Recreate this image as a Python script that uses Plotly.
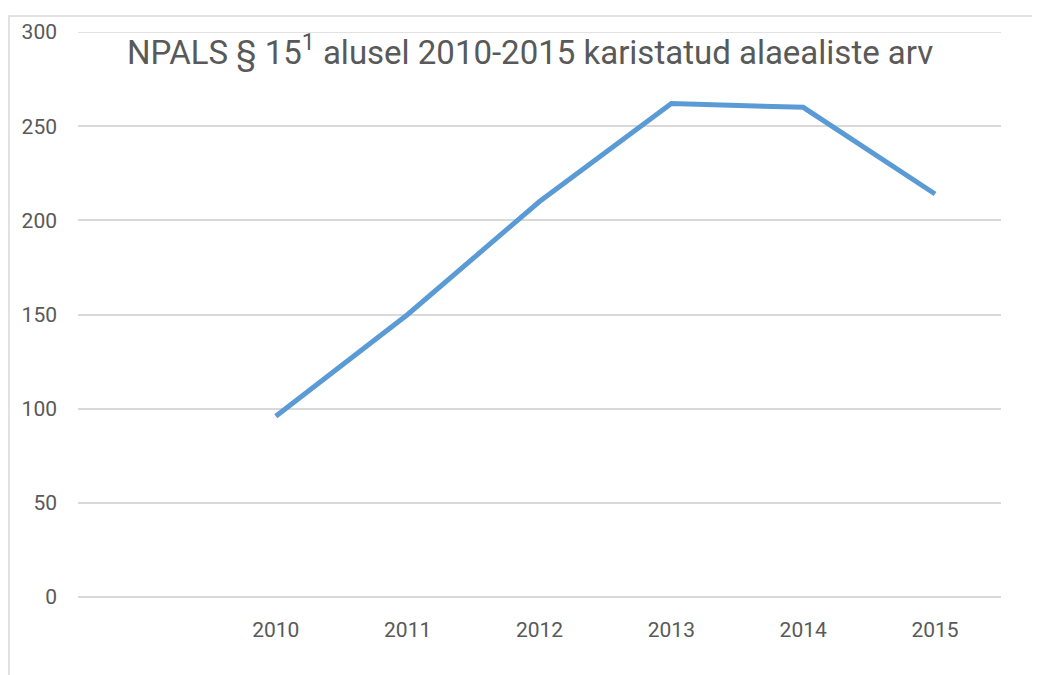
import plotly.graph_objects as go

years = [2010, 2011, 2012, 2013, 2014, 2015]
values = [96, 150, 210, 262, 260, 214]
y_ticks = [0, 50, 100, 150, 200, 250, 300]
title_text = "NPALS § 15<sup>1</sup> alusel 2010-2015 karistatud alaealiste arv"

# page body has an 8px margin, so figure coords = screen coords - 8
OFF = 8
W, H = 1032, 667
L, R, T, B = 78 - OFF, 1001 - OFF, 25 - OFF, 597 - OFF
pw, ph = R - L, B - T

def px_x(p):
    return (p - OFF - L) / pw

def px_y(p):
    return (B - (p - OFF)) / ph

FONT = "Roboto, sans-serif"
GRID = "#D9D9D9"
TXT = "#595959"

fig = go.Figure()
fig.add_trace(go.Scatter(
    x=years, y=values, mode="lines",
    line=dict(color="#5B9BD5", width=5),
    hoverinfo="x+y", showlegend=False,
))

fig.update_layout(
    width=W, height=H,
    margin=dict(l=L, r=W - R, t=T, b=H - B, pad=0),
    paper_bgcolor="white", plot_bgcolor="white",
    font=dict(family=FONT, color=TXT, size=18),
    xaxis=dict(
        range=[2008.5, 2015.5], tickvals=years, ticktext=[str(y) for y in years],
        showgrid=False, zeroline=False, showline=False, ticks="",
        tickfont=dict(size=21, color=TXT), ticklabelstandoff=18,
    ),
    yaxis=dict(
        range=[0, 300], tickvals=y_ticks, showgrid=True, gridcolor=GRID, gridwidth=1.5,
        zeroline=True, zerolinecolor=GRID, zerolinewidth=1.5, showline=False, ticks="",
        tickfont=dict(size=21, color=TXT), ticklabelstandoff=20,
    ),
    annotations=[dict(
        text=title_text, xref="paper", yref="paper",
        x=px_x(530), y=px_y(44), xanchor="center", yanchor="middle",
        showarrow=False, font=dict(size=33, color=TXT, family=FONT),
    )],
    shapes=[
        dict(type="line", xref="paper", yref="y", x0=0, x1=1, y0=300, y1=300,
             line=dict(color=GRID, width=1.5), layer="below"),
        dict(type="rect", xref="paper", yref="paper",
             x0=px_x(9), x1=px_x(1080), y0=px_y(720), y1=px_y(8.8),
             line=dict(color=GRID, width=1.5), fillcolor="rgba(0,0,0,0)", layer="below"),
    ],
)

fig.write_html("out.html")
